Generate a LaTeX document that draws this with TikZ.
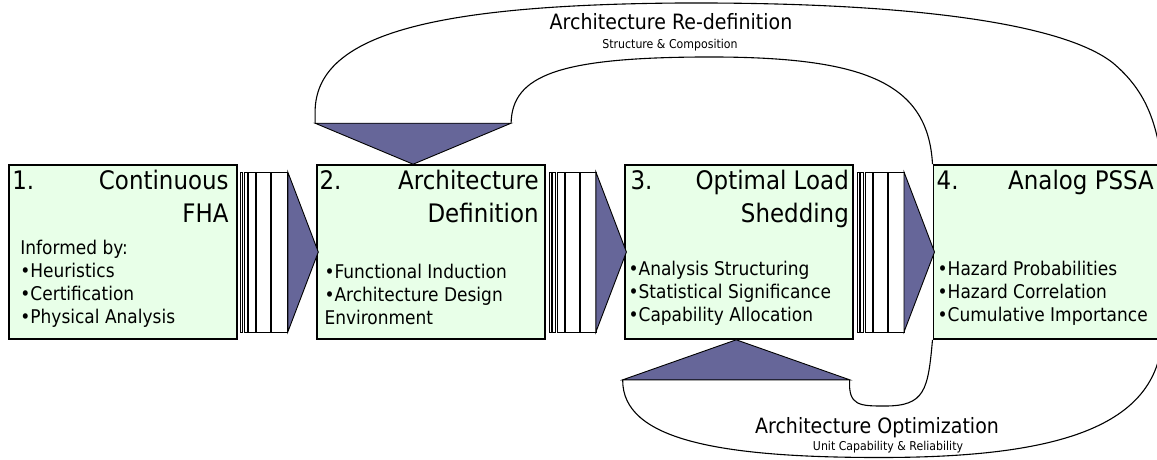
\documentclass[tikz,border=0pt]{standalone}
\usepackage{fontspec}
\setmainfont{DejaVu Sans}[FakeStretch=0.9]
\usepackage{xcolor}
\usepackage{tikz}
\usetikzlibrary{positioning,calc}
\definecolor{stagegreen}{RGB}{232,255,232}
\definecolor{headblue}{HTML}{666699}
\tikzset{
  stagebox/.style={draw, line width=1.6pt, fill=stagegreen, minimum width=228pt, minimum height=174pt, inner sep=0pt},
  stagenum/.style={inner sep=0pt, font=\fontsize{25.5}{33}\selectfont},
  stagetitle/.style={inner sep=0pt, align=right, font=\fontsize{25.5}{33}\selectfont},
  stagebody/.style={inner sep=0pt, align=left, font=\fontsize{18.9}{23}\selectfont},
  bar/.style={draw, fill=white, line width=0.8pt},
  head/.style={draw, fill=headblue, line width=0.9pt, line join=miter},
  loopline/.style={line width=1.1pt},
  looplabel/.style={inner sep=0pt, font=\fontsize{21.1}{24}\selectfont},
  loopsub/.style={inner sep=0pt, font=\fontsize{12.2}{14}\selectfont},
}

\begin{document}
\begin{tikzpicture}[x=1pt, y=-1pt, node distance=78.5pt]
  \useasboundingbox (0,0) rectangle (1157,459);

  % the four stages
  \node[stagebox] (box1) at (123,252) {};
  \node[stagebox, right=of box1] (box2) {};
  \node[stagebox, right=of box2] (box3) {};
  \node[stagebox, right=of box3] (box4) {};

  \node[stagenum, anchor=base west] (num1) at ($(box1.north west)+(4,25)$) {1.};
  \node[stagetitle, anchor=north east] (ttl1) at ($(box1.north east)+(-9,6)$) {Continuous\\FHA};
  \node[stagebody, anchor=north west] (body1) at ($(box1.north west)+(12,76)$)
    {Informed by:\\\textbullet Heuristics\\\textbullet Certification\\\textbullet Physical Analysis};

  \node[stagenum, anchor=base west] (num2) at ($(box2.north west)+(3,25)$) {2.};
  \node[stagetitle, anchor=north east] (ttl2) at ($(box2.north east)+(-7,6)$) {Architecture\\Definition};
  \node[stagebody, anchor=north west] (body2) at ($(box2.north west)+(8,100)$)
    {\textbullet Functional Induction\\\textbullet Architecture Design\\Environment};

  \node[stagenum, anchor=base west] (num3) at ($(box3.north west)+(6,25)$) {3.};
  \node[stagetitle, anchor=north east] (ttl3) at ($(box3.north east)+(-5,6)$) {Optimal Load\\Shedding};
  \node[stagebody, anchor=north west] (body3) at ($(box3.north west)+(4,97)$)
    {\textbullet Analysis Structuring\\\textbullet Statistical Significance\\\textbullet Capability Allocation};

  \node[stagenum, anchor=base west] (num4) at ($(box4.north west)+(4,25)$) {4.};
  \node[stagetitle, anchor=north east] (ttl4) at ($(box4.north east)+(-8,6)$) {Analog PSSA};
  \node[stagebody, anchor=north west] (body4) at ($(box4.north west)+(5,97)$)
    {\textbullet Hazard Probabilities\\\textbullet Hazard Correlation\\\textbullet Cumulative Importance};

  % striped arrows between stages
  \foreach \a/\b in {box1/box2, box2/box3, box3/box4} {
    \draw[bar] ($(\a.east)+(3,-80)$) rectangle ($(\a.east)+(5,80)$);
    \draw[bar] ($(\a.east)+(6.5,-80)$) rectangle ($(\a.east)+(9.5,80)$);
    \draw[bar] ($(\a.east)+(11,-80)$) rectangle ($(\a.east)+(18,80)$);
    \draw[bar] ($(\a.east)+(19,-80)$) rectangle ($(\a.east)+(33,80)$);
    \draw[bar] ($(\a.east)+(34,-80)$) rectangle ($(\a.east)+(50,80)$);
    \draw[head] ($(\a.east)+(50,-80)$) -- ($(\b.west)+(2,0)$) -- ($(\a.east)+(50,80)$) -- cycle;
  }

  % re-definition loop back to stage 2
  \coordinate (tophead) at ($(box2.north)+(-18,0)$);
  \coordinate (topl) at ($(tophead)+(-98,-41)$);
  \coordinate (topr) at ($(tophead)+(98,-41)$);
  \draw[loopline] (topl) -- ++(0,-12) .. controls (316,35) and (430,5) .. (680,3)
    .. controls (920,2) and (1065,25) .. (1113,63)
    .. controls (1145,90) and (1156,120) .. (box4.north east);
  \draw[loopline] (topr) .. controls (512,75) and (560,58) .. (700,57)
    .. controls (860,56) and (928,80) .. (box4.north west);
  \draw[head] (topl) -- (topr) -- (tophead) -- cycle;
  \node[looplabel] (redef) at (671,22) {Architecture Re-definition};
  \node[loopsub] (redefsub) at (670,45) {Structure \& Composition};

  % optimization loop back to stage 3
  \coordinate (bothead) at ($(box3.south)+(-3,0)$);
  \coordinate (botl) at ($(bothead)+(-113.5,40)$);
  \coordinate (botr) at ($(bothead)+(113.5,40)$);
  \draw[loopline] (botl) .. controls (622,440) and (720,457.5) .. (880,457.5)
    .. controls (1050,457.5) and (1155,430) .. (box4.south east);
  \draw[loopline] (botr) .. controls (848,406) and (860,406) .. (885,406)
    .. controls (925,406) and (928,390) .. (box4.south west);
  \draw[head] (botl) -- (botr) -- (bothead) -- cycle;
  \node[looplabel] (optim) at (877,428) {Architecture Optimization};
  \node[loopsub] (optimsub) at (888,447) {Unit Capability \& Reliability};
\end{tikzpicture}
\end{document}
